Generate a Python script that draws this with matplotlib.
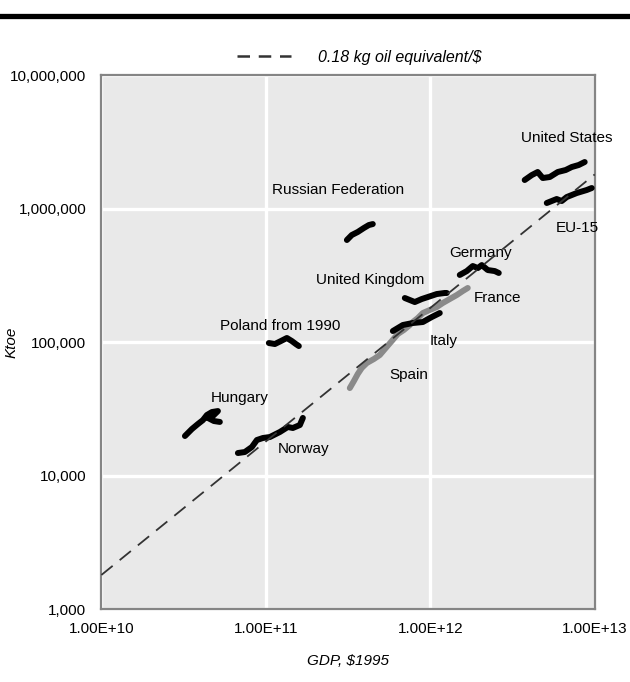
import matplotlib
matplotlib.use("Agg")
import matplotlib.pyplot as plt
from matplotlib.lines import Line2D
from matplotlib.ticker import FixedLocator, FuncFormatter, NullLocator

plt.rcParams["font.family"] = ["Liberation Sans", "DejaVu Sans"]

# GDP ($1995) and energy use (Ktoe) paths per country
us_gdp = [3.75e12, 4.14e12, 4.50e12, 4.83e12, 5.33e12, 5.96e12, 6.66e12, 7.25e12, 7.99e12, 8.69e12]
us_ktoe = [1.635e6, 1.78e6, 1.877e6, 1.692e6, 1.722e6, 1.877e6, 1.943e6, 2.046e6, 2.118e6, 2.23e6]

eu_gdp = [5.11e12, 5.87e12, 6.30e12, 6.76e12, 7.77e12, 8.94e12, 9.59e12]
eu_ktoe = [1.10e6, 1.178e6, 1.138e6, 1.219e6, 1.306e6, 1.376e6, 1.424e6]

russia_gdp = [3.11e11, 3.33e11, 3.62e11, 3.94e11, 4.23e11, 4.47e11]
russia_ktoe = [5.81e5, 6.33e5, 6.67e5, 7.14e5, 7.52e5, 7.65e5]

germany_gdp = [1.511e12, 1.667e12, 1.813e12, 1.945e12, 2.056e12, 2.236e12, 2.467e12, 2.609e12]
germany_ktoe = [3.18e5, 3.40e5, 3.71e5, 3.58e5, 3.77e5, 3.46e5, 3.40e5, 3.29e5]

uk_gdp = [7.00e11, 7.51e11, 8.05e11, 8.88e11, 9.66e11, 1.095e12, 1.225e12, 1.26e12]
uk_ktoe = [2.136e5, 2.063e5, 1.993e5, 2.10e5, 2.173e5, 2.288e5, 2.33e5, 2.33e5]

france_gdp = [7.83e11, 8.40e11, 9.01e11, 9.93e11, 1.095e12, 1.191e12, 1.314e12, 1.449e12, 1.576e12, 1.690e12]
france_ktoe = [1.412e5, 1.513e5, 1.649e5, 1.737e5, 1.829e5, 1.96e5, 2.10e5, 2.249e5, 2.41e5, 2.54e5]

italy_gdp = [5.92e11, 6.81e11, 7.83e11, 9.01e11, 1.021e12, 1.142e12]
italy_ktoe = [1.209e5, 1.341e5, 1.388e5, 1.412e5, 1.539e5, 1.649e5]

spain_gdp = [3.24e11, 3.43e11, 3.62e11, 3.83e11, 4.11e11, 4.54e11, 4.93e11, 5.36e11, 5.83e11, 6.34e11, 6.90e11, 7.51e11]
spain_ktoe = [4.52e4, 5.10e4, 5.76e4, 6.39e4, 6.96e4, 7.46e4, 7.99e4, 9.02e4, 1.017e5, 1.148e5, 1.23e5, 1.341e5]

poland_gdp = [1.043e11, 1.134e11, 1.234e11, 1.342e11, 1.439e11, 1.522e11, 1.587e11]
poland_ktoe = [9.83e4, 9.66e4, 1.017e5, 1.072e5, 1.017e5, 9.66e4, 9.33e4]

hungary_gdp = [3.22e10, 3.55e10, 3.86e10, 4.14e10, 4.38e10, 4.70e10, 5.11e10, 4.76e10, 4.44e10, 4.83e10, 5.25e10]
hungary_ktoe = [1.977e4, 2.23e4, 2.43e4, 2.60e4, 2.84e4, 2.99e4, 3.04e4, 2.79e4, 2.70e4, 2.56e4, 2.52e4]

norway_gdp = [6.76e10, 7.45e10, 8.22e10, 8.82e10, 9.59e10, 1.058e11, 1.216e11, 1.36e11, 1.459e11, 1.61e11, 1.679e11]
norway_ktoe = [1.474e4, 1.50e4, 1.635e4, 1.845e4, 1.91e4, 1.943e4, 2.118e4, 2.31e4, 2.27e4, 2.39e4, 2.70e4]

intensity = 0.18  # kg oil equivalent per $
gdp_range = [1e10, 1e13]

labels = ["United States", "EU-15", "Russian Federation", "Germany", "United Kingdom",
          "France", "Italy", "Poland from 1990", "Spain", "Hungary", "Norway"]
label_gdp = [6.76e12, 7.88e12, 2.74e11, 2.03e12, 4.29e11, 2.57e12, 1.208e12, 1.216e11, 7.40e11, 6.95e10, 1.70e11]
label_ktoe = [3.37e6, 7.14e5, 1.376e6, 4.64e5, 2.91e5, 2.14e5, 1.017e5, 1.318e5, 5.66e4, 3.81e4, 1.58e4]


def plot_energy(ax):
    black = [(us_gdp, us_ktoe), (eu_gdp, eu_ktoe), (russia_gdp, russia_ktoe),
             (germany_gdp, germany_ktoe), (uk_gdp, uk_ktoe), (italy_gdp, italy_ktoe),
             (poland_gdp, poland_ktoe), (hungary_gdp, hungary_ktoe), (norway_gdp, norway_ktoe)]
    grey = [(spain_gdp, spain_ktoe), (france_gdp, france_ktoe)]
    for g, k in grey:
        ax.plot(g, k, color="#8a8a8a", lw=4.3, solid_capstyle="round", solid_joinstyle="round", zorder=3)
    for g, k in black:
        ax.plot(g, k, color="black", lw=4.3, solid_capstyle="round", solid_joinstyle="round", zorder=4)

    # constant energy intensity reference line (kt = $ * kg/$ / 1e6)
    line_ktoe = [g * intensity / 1e6 for g in gdp_range]
    ax.plot(gdp_range, line_ktoe, color="#333333", lw=1.3, dashes=(8, 5), zorder=5,
            label=f"{intensity} kg oil equivalent/$")

    for text, g, k in zip(labels, label_gdp, label_ktoe):
        ax.text(g, k, text, ha="center", va="center", fontsize=11, zorder=4)


def main():
    fig = plt.figure(figsize=(6.3, 6.82), dpi=100)
    ax = fig.add_axes([0.161, 0.107, 0.783, 0.783])
    ax.set_facecolor("#e9e9e9")

    plot_energy(ax)

    ax.set_xscale("log")
    ax.set_yscale("log")
    ax.set_xlim(1e10, 1e13)
    ax.set_ylim(1e3, 1e7)
    ax.xaxis.set_major_locator(FixedLocator([1e10, 1e11, 1e12, 1e13]))
    ax.yaxis.set_major_locator(FixedLocator([1e3, 1e4, 1e5, 1e6, 1e7]))
    ax.xaxis.set_minor_locator(NullLocator())
    ax.yaxis.set_minor_locator(NullLocator())
    ax.xaxis.set_major_formatter(FuncFormatter(lambda v, p: f"{v:.2E}"))
    ax.yaxis.set_major_formatter(FuncFormatter(lambda v, p: f"{int(round(v)):,}"))
    ax.tick_params(length=0, labelsize=11, colors="black")
    ax.tick_params(axis="y", pad=11)
    ax.tick_params(axis="x", pad=9)
    ax.grid(True, color="white", lw=2.4, zorder=1)
    ax.set_axisbelow(True)
    for s in ax.spines.values():
        s.set_color("#858585")
        s.set_linewidth(1.6)

    ax.set_xlabel("GDP, $1995", fontsize=11, style="italic", labelpad=13)
    fig.text(12 / 630, 1 - 342 / 682, "Ktoe", rotation=90, ha="center", va="center",
             fontsize=11, style="italic")

    leg = ax.legend(loc="center left", bbox_to_anchor=(0.376, 0.916), bbox_transform=fig.transFigure,
                    frameon=False, prop={"style": "italic", "size": 11.5},
                    handlelength=3.4, handletextpad=1.7, borderpad=0, borderaxespad=0)
    handle = leg.get_lines()[0]
    handle.set_linewidth(1.8)
    handle.set_dashes((5, 3.5))

    # heavy rule across the top
    fig.add_artist(Line2D([0, 1], [0.976, 0.976], transform=fig.transFigure, color="black", lw=3.8))

    fig.savefig("out.png", dpi=100)


if __name__ == "__main__":
    main()
